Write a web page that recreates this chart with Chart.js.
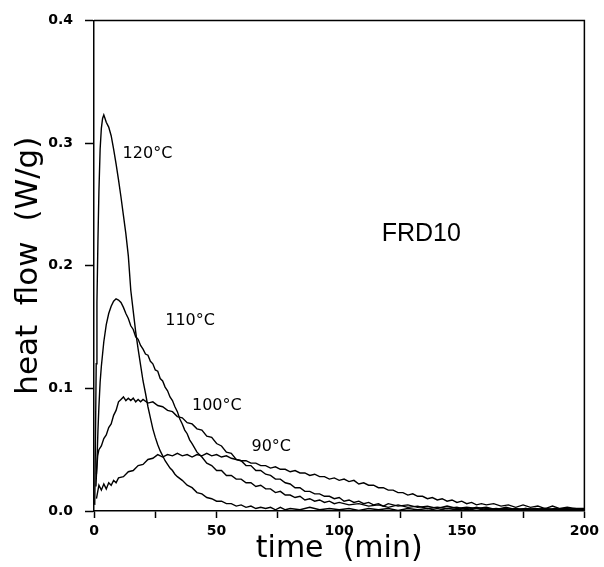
<!DOCTYPE html>
<html>
<head>
<meta charset="utf-8">
<script src="https://cdn.jsdelivr.net/npm/chart.js@4/dist/chart.umd.min.js"></script>
<style>
  html, body { margin: 0; padding: 0; background: #fff; }
  #wrap { width: 604px; height: 567px; }
</style>
</head>
<body>
<div id="wrap"><canvas id="dscChart" width="604" height="567"></canvas></div>
<script>
// isothermal DSC curves, FRD10 (time in min, heat flow in W/g)
const t120 = [0.3, 0.6, 0.9, 1.2, 1.6, 2.0, 2.5, 3.0, 3.5, 4.0,
              4.5, 5, 6, 7, 8, 9, 10, 11, 12, 13,
              14, 15, 16, 17, 18, 19, 20, 21, 22, 23,
              24, 25, 26, 27, 28, 29, 30, 31, 32, 33,
              34, 36, 38, 40, 42, 44, 46, 48, 50, 52,
              54, 56, 58, 60, 62, 64, 66, 68, 70, 72,
              74, 76, 78, 80, 84, 88, 92, 96, 100, 104,
              108, 112, 116, 120, 124, 128, 132, 136, 140, 144,
              148, 152, 156, 160, 164, 168, 172, 176, 180, 184,
              188, 192, 196, 200];
const q120 = [0.005, 0.06, 0.12, 0.17, 0.22, 0.26, 0.295, 0.312, 0.32, 0.323,
              0.32, 0.317, 0.313, 0.306, 0.295, 0.283, 0.27, 0.256, 0.241, 0.226,
              0.208, 0.18, 0.163, 0.146, 0.132, 0.119, 0.106, 0.096, 0.085, 0.076,
              0.067, 0.06, 0.054, 0.049, 0.045, 0.041, 0.038, 0.035, 0.033, 0.030,
              0.028, 0.025, 0.021, 0.019, 0.015, 0.014, 0.011, 0.010, 0.008, 0.008,
              0.006, 0.006, 0.004, 0.005, 0.003, 0.004, 0.002, 0.003, 0.002, 0.003,
              0.001, 0.003, 0.001, 0.002, 0.001, 0.003, 0.001, 0.002, 0.001, 0.002,
              0.0005, 0.002, 0.001, 0.002, 0.0005, 0.002, 0.001, 0.002, 0.0005, 0.002,
              0.001, 0.002, 0.0005, 0.002, 0.001, 0.002, 0.0005, 0.002, 0.001, 0.002,
              0.0005, 0.002, 0.001, 0.001];

const t110 = [0.8, 1.2, 1.6, 2, 2.5, 3, 3.5, 4, 5, 6,
              7, 8, 9, 10, 11, 12, 13, 14, 15, 16,
              17, 18, 19, 20, 21, 22, 23, 24, 25, 26,
              27, 28, 29, 30, 31, 32, 33, 34, 35, 36,
              37, 38, 39, 40, 42, 44, 46, 48, 50, 52,
              54, 56, 58, 60, 62, 64, 66, 68, 70, 72,
              74, 76, 78, 80, 82, 84, 86, 88, 90, 92,
              94, 96, 98, 100, 104, 108, 112, 116, 120, 124,
              128, 132, 136, 140, 144, 148, 152, 156, 160, 164,
              168, 172, 176, 180, 184, 188, 192, 196, 200];
const q110 = [0.02, 0.04, 0.065, 0.085, 0.105, 0.118, 0.128, 0.138, 0.152, 0.161,
              0.167, 0.171, 0.173, 0.172, 0.170, 0.166, 0.161, 0.157, 0.151, 0.148,
              0.142, 0.140, 0.135, 0.132, 0.128, 0.127, 0.122, 0.120, 0.115, 0.114,
              0.108, 0.106, 0.101, 0.098, 0.093, 0.090, 0.085, 0.081, 0.075, 0.071,
              0.066, 0.063, 0.058, 0.055, 0.048, 0.044, 0.039, 0.037, 0.033, 0.033,
              0.029, 0.029, 0.026, 0.026, 0.023, 0.023, 0.020, 0.021, 0.018, 0.018,
              0.015, 0.016, 0.013, 0.013, 0.011, 0.012, 0.009, 0.010, 0.008, 0.009,
              0.007, 0.008, 0.006, 0.007, 0.005, 0.006, 0.004, 0.005, 0.003, 0.005,
              0.003, 0.004, 0.002, 0.003, 0.002, 0.003, 0.001, 0.003, 0.001, 0.002,
              0.001, 0.002, 0.001, 0.002, 0.001, 0.002, 0.001, 0.002, 0.001];

const t100 = [1, 1.5, 2, 3, 4, 5, 6, 7, 8, 9,
              10, 11, 12, 13, 14, 15, 16, 17, 18, 19,
              20, 22, 24, 26, 28, 30, 32, 34, 36, 38,
              40, 42, 44, 46, 48, 50, 52, 54, 56, 58,
              60, 62, 64, 66, 68, 70, 72, 74, 76, 78,
              80, 82, 84, 86, 88, 90, 92, 94, 96, 98,
              100, 102, 104, 106, 108, 110, 112, 114, 116, 118,
              120, 124, 128, 132, 136, 140, 144, 148, 152, 156,
              160, 164, 168, 172, 176, 180, 184, 188, 192, 196,
              200];
const q100 = [0.030, 0.045, 0.050, 0.053, 0.059, 0.062, 0.068, 0.071, 0.078, 0.082,
              0.089, 0.091, 0.093, 0.090, 0.092, 0.090, 0.092, 0.089, 0.091, 0.089,
              0.091, 0.088, 0.089, 0.086, 0.085, 0.082, 0.081, 0.077, 0.076, 0.072,
              0.071, 0.067, 0.066, 0.061, 0.060, 0.055, 0.053, 0.048, 0.047, 0.042,
              0.041, 0.037, 0.037, 0.033, 0.033, 0.030, 0.029, 0.026, 0.026, 0.023,
              0.022, 0.019, 0.019, 0.016, 0.016, 0.014, 0.014, 0.012, 0.012, 0.010,
              0.011, 0.008, 0.009, 0.007, 0.008, 0.006, 0.007, 0.005, 0.006, 0.004,
              0.006, 0.004, 0.005, 0.003, 0.004, 0.002, 0.004, 0.002, 0.003, 0.002,
              0.003, 0.001, 0.003, 0.001, 0.002, 0.001, 0.002, 0.001, 0.002, 0.001,
              0.001];

const t90 = [1, 2, 3, 4, 5, 6, 7, 8, 9, 10,
             12, 14, 16, 18, 20, 22, 24, 26, 28, 30,
             32, 34, 36, 38, 40, 42, 44, 46, 48, 50,
             52, 54, 56, 58, 60, 62, 64, 66, 68, 70,
             72, 74, 76, 78, 80, 82, 84, 86, 88, 90,
             92, 94, 96, 98, 100, 102, 104, 106, 108, 110,
             112, 114, 116, 118, 120, 122, 124, 126, 128, 130,
             132, 134, 136, 138, 140, 142, 144, 146, 148, 150,
             152, 154, 156, 158, 160, 163, 166, 169, 172, 175,
             178, 181, 184, 187, 190, 193, 196, 200];
const q90 = [0.010, 0.021, 0.017, 0.022, 0.018, 0.023, 0.021, 0.025, 0.023, 0.027,
             0.028, 0.032, 0.033, 0.037, 0.038, 0.042, 0.043, 0.046, 0.044, 0.046,
             0.045, 0.047, 0.045, 0.046, 0.044, 0.046, 0.045, 0.047, 0.045, 0.046,
             0.044, 0.045, 0.043, 0.042, 0.041, 0.041, 0.039, 0.039, 0.037, 0.037,
             0.035, 0.036, 0.034, 0.034, 0.032, 0.033, 0.031, 0.031, 0.029, 0.030,
             0.028, 0.028, 0.026, 0.027, 0.025, 0.026, 0.024, 0.025, 0.022, 0.023,
             0.021, 0.021, 0.019, 0.019, 0.017, 0.017, 0.015, 0.015, 0.013, 0.014,
             0.012, 0.012, 0.010, 0.011, 0.009, 0.010, 0.008, 0.009, 0.007, 0.008,
             0.006, 0.007, 0.005, 0.006, 0.005, 0.006, 0.004, 0.005, 0.003, 0.005,
             0.003, 0.004, 0.002, 0.004, 0.002, 0.003, 0.002, 0.002];

// curve labels (data coords)
const labelText = ['120°C', '110°C', '100°C', '90°C'];
const labelT = [21.8, 39.2, 50.1, 72.3];
const labelQ = [0.291, 0.155, 0.086, 0.052];
const sampleName = 'FRD10';
const sampleT = 133.5;
const sampleQ = 0.226;

const xTicks = [0, 50, 100, 150, 200];

function toPoints(ts, qs) {
    return ts.map((t, i) => ({ x: t, y: qs[i] }));
}

function curve(ts, qs) {
    return {
        data: toPoints(ts, qs),
        showLine: true,
        borderColor: '#000',
        borderWidth: 1.4,
        pointRadius: 0,
        tension: 0,
        fill: false
    };
}

// frame + text labels
const annotate = {
    id: 'annotate',
    afterDatasetsDraw(chart) {
        const { ctx, chartArea: a, scales: { x, y } } = chart;
        ctx.save();
        ctx.strokeStyle = '#000';
        ctx.lineWidth = 1.5;
        ctx.beginPath();
        ctx.moveTo(a.left, a.top);
        ctx.lineTo(a.right, a.top);
        ctx.lineTo(a.right, a.bottom);
        ctx.stroke();

        ctx.fillStyle = '#000';
        ctx.textAlign = 'center';
        ctx.textBaseline = 'middle';
        ctx.font = '16px "DejaVu Sans"';
        labelText.forEach((txt, i) => {
            ctx.fillText(txt, x.getPixelForValue(labelT[i]), y.getPixelForValue(labelQ[i]));
        });
        ctx.font = '25px "Liberation Sans"';
        ctx.fillText(sampleName, x.getPixelForValue(sampleT), y.getPixelForValue(sampleQ));
        ctx.restore();
    }
};

new Chart(document.getElementById('dscChart'), {
    type: 'scatter',
    data: {
        datasets: [
            curve(t120, q120),
            curve(t110, q110),
            curve(t100, q100),
            curve(t90, q90)
        ]
    },
    options: {
        responsive: false,
        animation: false,
        layout: { padding: { top: 17, right: 15, left: 0, bottom: 0 } },
        plugins: { legend: { display: false }, tooltip: { enabled: false } },
        scales: {
            x: {
                type: 'linear',
                min: 0,
                max: 200,
                afterFit: s => { s.height = 56; },
                border: { display: true, color: '#000', width: 1.5 },
                grid: { drawOnChartArea: false, drawTicks: true, tickLength: 7, tickColor: '#000', tickWidth: 1.5 },
                ticks: {
                    stepSize: 25,
                    padding: 5,
                    color: '#000',
                    maxRotation: 0,
                    font: { family: 'DejaVu Sans', size: 14, weight: 'bold' },
                    callback: v => xTicks.includes(v) ? String(v) : ''
                },
                title: {
                    display: true,
                    text: 'time  (min)',
                    color: '#000',
                    padding: { top: 0, bottom: 0 },
                    font: { family: 'DejaVu Sans', size: 30 }
                }
            },
            y: {
                type: 'linear',
                min: 0,
                max: 0.4,
                afterFit: s => { s.width = 94; },
                border: { display: true, color: '#000', width: 1.5 },
                grid: { drawOnChartArea: false, drawTicks: true, tickLength: 9, tickColor: '#000', tickWidth: 1.5 },
                ticks: {
                    stepSize: 0.1,
                    padding: 12,
                    color: '#000',
                    font: { family: 'DejaVu Sans', size: 14, weight: 'bold' },
                    callback: v => v.toFixed(1)
                },
                title: {
                    display: true,
                    text: 'heat  flow  (W/g)',
                    color: '#000',
                    padding: { top: 10, bottom: 0 },
                    font: { family: 'DejaVu Sans', size: 31 }
                }
            }
        }
    },
    plugins: [annotate]
});
</script>
</body>
</html>
